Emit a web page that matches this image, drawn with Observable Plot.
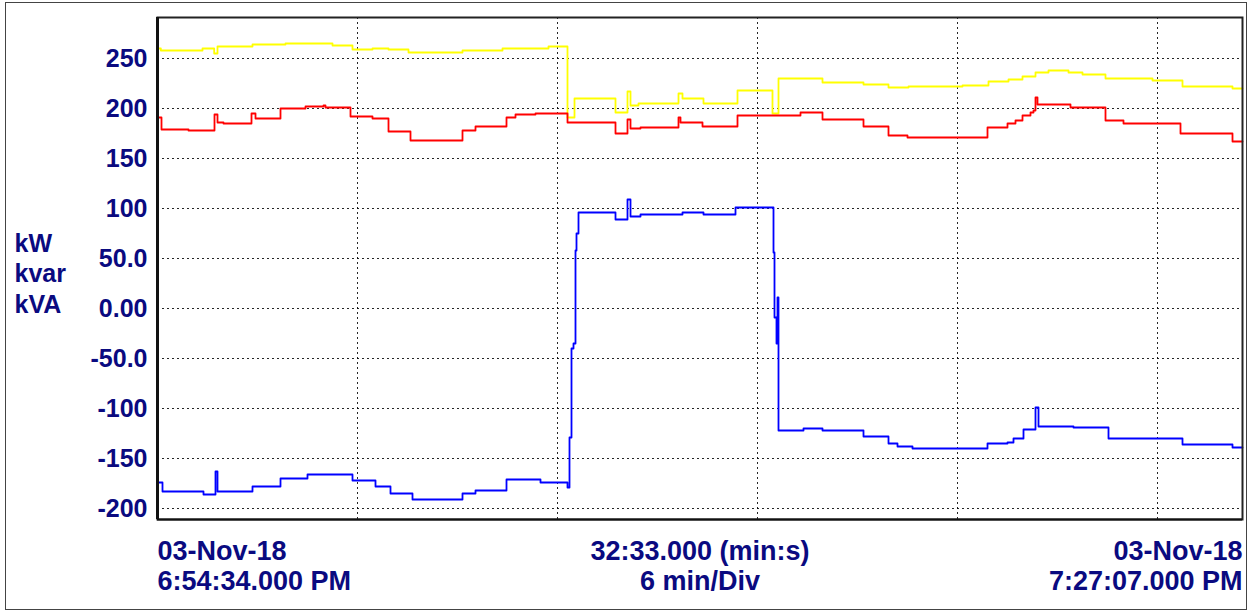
<!DOCTYPE html>
<html>
<head>
<meta charset="utf-8">
<script src="https://cdn.jsdelivr.net/npm/d3@7"></script>
<script src="https://cdn.jsdelivr.net/npm/@observablehq/plot@0.6"></script>
<style>
  html, body { margin: 0; padding: 0; background: #fff; }
  #wrap { position: relative; width: 1249px; height: 611px; }
  #border { position: absolute; left: 5px; top: 2px; width: 1240px; height: 606px; border: 1px solid #444; pointer-events: none; }
</style>
</head>
<body>
<div id="wrap"><div id="border"></div></div>
<script>
// Time axis: minutes since 6:54:34.000 PM (span 32:33.000)
const spanMinutes = 32.55;
const xGridMinutes = [6, 12, 18, 24, 30];

// Y axis ticks and their labels
const yTicks = [250, 200, 150, 100, 50, 0, -50, -100, -150, -200];
const yTickLabels = ["250", "200", "150", "100", "50.0", "0.00", "-50.0", "-100", "-150", "-200"];

// Units stacked at left
const unitLabels = ["kW", "kvar", "kVA"];

// Bottom labels
const startLabel = ["03-Nov-18", "6:54:34.000 PM"];
const midLabel = ["32:33.000 (min:s)", "6 min/Div"];
const endLabel = ["03-Nov-18", "7:27:07.000 PM"];

// kVA (yellow): [minute, value]
const kVAData = [
  [0, 260], [0.1, 258], [1.35, 260], [1.7, 255], [1.8, 262], [2.85, 264], [3.84, 265],
  [5.25, 263], [5.85, 259], [6.45, 260], [6.93, 259], [7.53, 256], [9.15, 258], [10.35, 260],
  [11.73, 262], [12.3, 191], [12.51, 210], [13.74, 196], [14.1, 217], [14.19, 203], [14.43, 205],
  [15.63, 215], [15.75, 210], [16.38, 205], [17.4, 218], [18.45, 195], [18.63, 230],
  [19.95, 226], [21.18, 224], [21.93, 221], [22.53, 222], [24.15, 223], [24.93, 227],
  [25.53, 229], [25.95, 232], [26.34, 236], [26.73, 238], [27.33, 236], [27.75, 234],
  [28.44, 230], [29.85, 228], [30.75, 222], [32.25, 220], [32.55, 220]
];

// kW (red)
const kWData = [
  [0, 191], [0.12, 179], [0.93, 178], [1.71, 194], [1.8, 186], [1.98, 185], [2.82, 195],
  [2.94, 190], [3.69, 200], [4.44, 202], [4.98, 203], [5.04, 201], [5.79, 192], [6.45, 190],
  [6.93, 177], [7.59, 168], [9.15, 178], [9.54, 182], [10.47, 191], [10.74, 194], [11.34, 195],
  [12.3, 186], [13.74, 175], [14.1, 189], [14.19, 180], [14.49, 181], [15.63, 191], [15.69, 186],
  [16.35, 182], [17.4, 193], [19.29, 196], [19.95, 189], [21.18, 182], [21.93, 173], [22.5, 171],
  [24.9, 181], [25.5, 185], [25.74, 188], [25.95, 193], [26.19, 196], [26.28, 198], [26.34, 211],
  [26.4, 204], [27.39, 201], [28.44, 188], [28.98, 185], [30.69, 175], [32.25, 167], [32.55, 167]
];

// kvar (blue)
const kvarData = [
  [0, -174], [0.15, -183], [1.38, -186], [1.74, -163], [1.8, -183], [2.85, -178], [3.69, -170],
  [4.5, -166], [5.85, -172], [6.54, -178], [6.99, -185], [7.65, -191], [9.15, -185], [9.54, -182],
  [10.47, -171], [11.49, -174], [12.3, -179], [12.36, -129], [12.42, -40], [12.48, -35],
  [12.54, 58], [12.57, 75], [12.63, 96], [13.74, 89], [14.1, 109], [14.19, 92], [14.49, 94],
  [15.75, 96], [16.38, 94], [17.34, 101], [18.48, 56], [18.51, -9], [18.57, -35], [18.6, 11],
  [18.63, -122], [19.38, -120], [19.95, -122], [21.18, -128], [21.93, -135], [22.2, -138],
  [22.65, -140], [24.9, -135], [25.5, -134], [25.68, -130], [25.98, -121], [26.34, -99],
  [26.43, -118], [27.48, -119], [28.53, -130], [30.75, -136], [32.25, -139], [32.55, -139]
];

const navy = "#0a0a80";
const font = "'Liberation Sans', Arial, sans-serif";
const labelMap = new Map(yTicks.map((t, i) => [t, yTickLabels[i]]));
const toRows = (arr) => arr.map(([t, v]) => ({t, v}));

const lineOpts = {x: "t", y: "v", curve: "step-after", strokeWidth: 1.8};
const bottomText = {text: d => d, lineAnchor: "top", dy: 19, lineHeight: 1.12, fontSize: 27, fill: navy, fontWeight: "bold"};

const chart = Plot.plot({
  width: 1249,
  height: 611,
  marginLeft: 157,
  marginRight: 7,
  marginTop: 17,
  marginBottom: 92,
  style: {fontFamily: font, fontWeight: "bold", color: navy, background: "transparent", overflow: "visible"},
  x: {domain: [0, spanMinutes], axis: null},
  y: {domain: [-211, 291], axis: null},
  marks: [
    Plot.gridY(yTicks, {stroke: "#000", strokeOpacity: 0.85, strokeDasharray: "2,3", strokeWidth: 1}),
    Plot.gridX(xGridMinutes, {stroke: "#000", strokeOpacity: 0.85, strokeDasharray: "2,3", strokeWidth: 1}),
    Plot.axisY({ticks: yTicks, tickFormat: d => labelMap.get(d), tickSize: 0, tickPadding: 10, fontSize: 25, fill: navy, label: null}),
    Plot.line(toRows(kVAData), {...lineOpts, stroke: "#ffff00"}),
    Plot.line(toRows(kWData), {...lineOpts, stroke: "#ff0000"}),
    Plot.line(toRows(kvarData), {...lineOpts, stroke: "#0000ff"}),
    Plot.frame({stroke: "#222", strokeWidth: 2}),
    Plot.ruleX([0], {stroke: "#111", strokeWidth: 3}),
    Plot.ruleY([-211], {stroke: "#111", strokeWidth: 2}),
    Plot.text([unitLabels.join("\n")], {text: d => d, frameAnchor: "left", textAnchor: "start", lineAnchor: "middle", dx: -143, dy: 4, lineHeight: 1.22, fontSize: 25, fill: navy, fontWeight: "bold"}),
    Plot.text([startLabel.join("\n")], {...bottomText, frameAnchor: "bottom-left", textAnchor: "start"}),
    Plot.text([midLabel.join("\n")], {...bottomText, frameAnchor: "bottom", textAnchor: "middle"}),
    Plot.text([endLabel.join("\n")], {...bottomText, frameAnchor: "bottom-right", textAnchor: "end"})
  ]
});
document.getElementById("wrap").prepend(chart);
</script>
</body>
</html>
